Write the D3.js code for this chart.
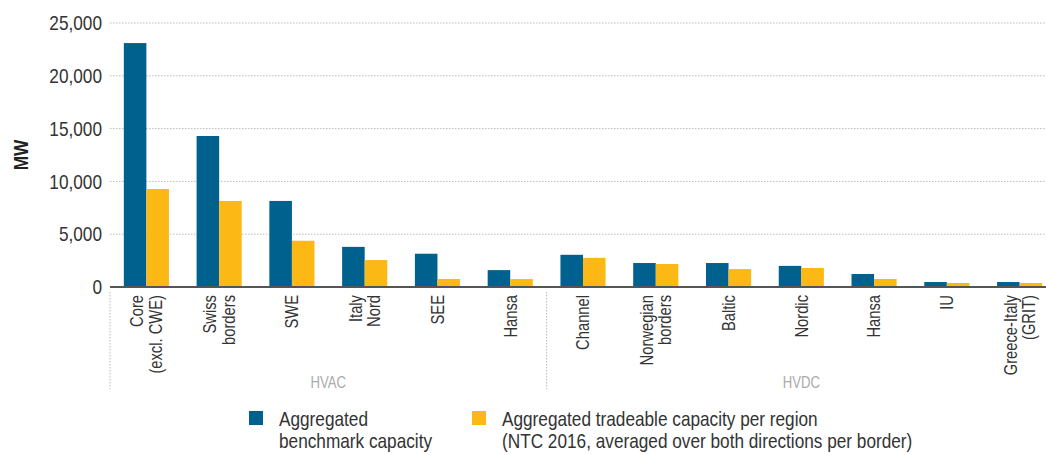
<!DOCTYPE html>
<html>
<head>
<meta charset="utf-8">
<script src="https://cdn.jsdelivr.net/npm/d3@7"></script>
<style>
  body { margin: 0; background: #fff; }
  svg text { font-family: "Liberation Sans", Arial, sans-serif; fill: #333; }
</style>
</head>
<body>
<svg id="chart" width="1046" height="455"></svg>
<script>
// categories (label lines) and their group
const categories = [
  ["Core", "(excl. CWE)"], ["Swiss", "borders"], ["SWE"], ["Italy", "Nord"], ["SEE"], ["Hansa"],
  ["Channel"], ["Norwegian", "borders"], ["Baltic"], ["Nordic"], ["Hansa"], ["IU"], ["Greece-Italy", "(GRIT)"]
]
const groups = ["HVAC", "HVAC", "HVAC", "HVAC", "HVAC", "HVAC",
  "HVDC", "HVDC", "HVDC", "HVDC", "HVDC", "HVDC", "HVDC"]
const benchmark = [23100, 14300, 8150, 3800, 3150, 1600, 3050, 2270, 2270, 2000, 1230, 470, 470]
const tradeable = [9280, 8150, 4380, 2550, 760, 750, 2760, 2180, 1700, 1800, 760, 380, 380]
const yTicks = [0, 5000, 10000, 15000, 20000, 25000]
const seriesNames = [["Aggregated", "benchmark capacity"],
  ["Aggregated tradeable capacity per region", "(NTC 2016, averaged over both directions per border)"]]
const colors = ["#00618f", "#fcb814"]

// the reference font is a narrow grotesque; squeeze Liberation Sans to match
const narrow = "scale(0.82,1)"

const svg = d3.select("#chart")
const mLeft = 110, mRight = 1046, mTop = 23, mBottom = 287

const idx = d3.range(categories.length)
const x = d3.scaleBand().domain(idx).range([mLeft, 1056]).paddingInner(0.38).paddingOuter(0.19)
const xs = d3.scaleBand().domain([0, 1]).range([0, x.bandwidth()])
const y = d3.scaleLinear().domain([0, 25000]).range([mBottom, mTop])
const fmt = d3.format(",")

// gridlines
svg.append("g")
  .selectAll("line")
  .data(yTicks.slice(1))
  .join("line")
  .attr("x1", mLeft).attr("x2", mRight)
  .attr("y1", d => y(d)).attr("y2", d => y(d))
  .attr("stroke", "#bbb")
  .attr("stroke-dasharray", "1.5,1.5")

// y axis labels
const yAxis = svg.append("g")
  .attr("transform", `translate(${mLeft - 8},0)`)
  .call(d3.axisLeft(y).tickValues(yTicks).tickFormat(fmt).tickSize(0).tickPadding(0))
yAxis.select(".domain").remove()
yAxis.selectAll("text")
  .attr("transform", narrow)
  .style("font-size", "21px")
  .attr("fill", "#333")

svg.append("text")
  .attr("transform", `translate(28,${(mTop + mBottom) / 2}) rotate(-90) ${narrow}`)
  .attr("text-anchor", "middle")
  .style("font-size", "21px")
  .style("font-weight", "bold")
  .style("fill", "#222")
  .text("MW")

// bars
const cat = svg.append("g")
  .selectAll("g")
  .data(idx)
  .join("g")
  .attr("transform", i => `translate(${x(i)},0)`)

cat.selectAll("rect")
  .data(i => [benchmark[i], tradeable[i]])
  .join("rect")
  .attr("x", (d, j) => xs(j))
  .attr("width", xs.bandwidth())
  .attr("y", d => y(d))
  .attr("height", d => y(0) - y(d))
  .attr("fill", (d, j) => colors[j])

// baseline
svg.append("line")
  .attr("x1", mLeft).attr("x2", mRight)
  .attr("y1", y(0)).attr("y2", y(0))
  .attr("stroke", "#555").attr("stroke-width", 2)

// category labels
const lh = 18.5
svg.append("g")
  .selectAll("text")
  .data(idx)
  .join("text")
  .attr("transform", i => `translate(${x(i) + x.bandwidth() / 2},295) rotate(-90) ${narrow}`)
  .attr("text-anchor", "end")
  .style("font-size", "18px")
  .each(function (i) {
    const lines = categories[i]
    const t = d3.select(this)
    lines.forEach((l, k) => {
      t.append("tspan")
        .attr("x", 0)
        .attr("y", (k - (lines.length - 1) / 2) * lh)
        .attr("dy", "0.35em")
        .text(l)
    })
  })

// group separators and labels
const groupNames = Array.from(new Set(groups))
const half = x.step() * x.paddingInner() / 2
const bounds = groupNames.map(g => {
  const members = idx.filter(i => groups[i] === g)
  return [x(members[0]) - half, x(members[members.length - 1]) + x.bandwidth() + half]
})
const sepX = Array.from(new Set(bounds.flat().map(v => Math.round(v * 10) / 10)))
svg.append("g")
  .selectAll("line")
  .data(sepX)
  .join("line")
  .attr("x1", d => d).attr("x2", d => d)
  .attr("y1", 292).attr("y2", 389)
  .attr("stroke", "#bbb")
  .attr("stroke-dasharray", "1.5,1.5")

svg.append("g")
  .selectAll("text")
  .data(groupNames)
  .join("text")
  .attr("transform", (g, k) => `translate(${(bounds[k][0] + bounds[k][1]) / 2},388) ${narrow}`)
  .attr("text-anchor", "middle")
  .style("font-size", "16px")
  .style("fill", "#aaa")
  .text(g => g)

// legend
const legendX = [249, 472]
const leg = svg.append("g")
  .selectAll("g")
  .data(seriesNames)
  .join("g")
  .attr("transform", (d, k) => `translate(${legendX[k]},411)`)
leg.append("rect")
  .attr("width", 14).attr("height", 14)
  .attr("fill", (d, k) => colors[k])
leg.append("text")
  .attr("transform", `translate(30,0) ${narrow}`)
  .style("font-size", "21px")
  .each(function (lines) {
    const t = d3.select(this)
    lines.forEach((l, k) => {
      t.append("tspan").attr("x", 0).attr("y", 15 + k * 22).text(l)
    })
  })
</script>
</body>
</html>
